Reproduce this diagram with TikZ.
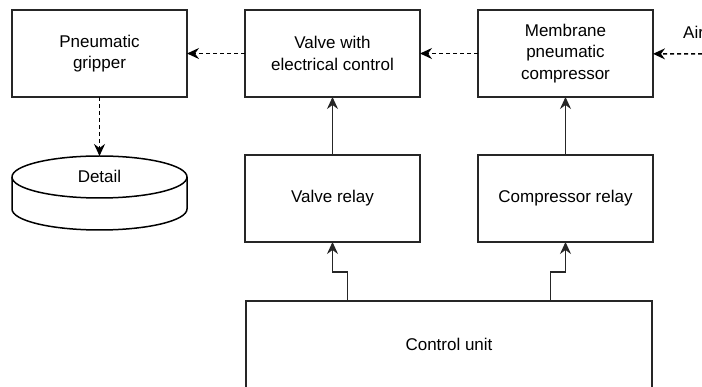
\documentclass[tikz,border=0pt]{standalone}
\usepackage{fontspec}
\setmainfont{Liberation Sans}
\usetikzlibrary{shapes.geometric, arrows.meta, positioning, calc}

\begin{document}
\begin{tikzpicture}[node distance=58pt, >={Stealth[length=12pt, width=11pt, inset=4pt]},
        font=\fontsize{17}{21.5}\selectfont,
        box/.style={rectangle, draw=black!85, line width=1.5pt, fill=white, minimum width=175pt, minimum height=87pt, inner sep=0pt, outer sep=0pt, align=center},
        store/.style={rectangle, minimum width=175pt, minimum height=74pt, inner sep=0pt, outer sep=0pt},
        rim/.style={draw=black, line width=1.5pt},
        arrow/.style={->, line width=1.5pt, black!85},
        dasharrow/.style={->, line width=1.5pt, dash pattern=on 4pt off 3pt}]

        \useasboundingbox (0,0) rectangle (702pt,-387pt);

        \node[box] (gripper) at (99.5pt,-53.5pt) {Pneumatic\\gripper};
        \node[box, right=of gripper] (valve) {Valve with\\electrical control};
        \node[box, right=of valve] (membrane) {Membrane\\pneumatic\\compressor};
        \node[box, below=of valve] (vrelay) {Valve relay};
        \node[box, below=of membrane] (crelay) {Compressor relay};
        \node[box, minimum width=406pt, below=59pt of $(vrelay.south)!0.5!(crelay.south)$, anchor=north] (cunit) {Control unit};
        \node[store, below=59pt of gripper] (detail) {\raisebox{10pt}[0pt][0pt]{Detail}};

        % cylinder outline of the detail store
        \draw[rim] ([yshift=-21pt]detail.north west) -- ([yshift=21pt]detail.south west)
            arc[start angle=180, end angle=360, x radius=87.5pt, y radius=21pt]
            -- ([yshift=-21pt]detail.north east)
            arc[start angle=0, end angle=180, x radius=87.5pt, y radius=21pt];
        \draw[rim] ([yshift=-21pt]detail.north west)
            arc[start angle=180, end angle=360, x radius=87.5pt, y radius=21pt];

        \coordinate (air) at (702pt,-54pt);
        \node[anchor=west, inner sep=0pt] (airlabel) at (683pt,-32pt) {Air};

        \draw[dasharrow] (air) -- (membrane);
        \draw[dasharrow] (membrane) -- (valve);
        \draw[dasharrow] (valve) -- (gripper);
        \draw[dasharrow] (gripper) -- (detail);
        \draw[arrow] (vrelay) -- (valve);
        \draw[arrow] (crelay) -- (membrane);
        \draw[arrow] ($(vrelay.south |- cunit.north)+(15pt,0)$) -- ++(0,29pt) -| (vrelay.south);
        \draw[arrow] ($(crelay.south |- cunit.north)+(-15pt,0)$) -- ++(0,29pt) -| (crelay.south);
    \end{tikzpicture}
\end{document}
